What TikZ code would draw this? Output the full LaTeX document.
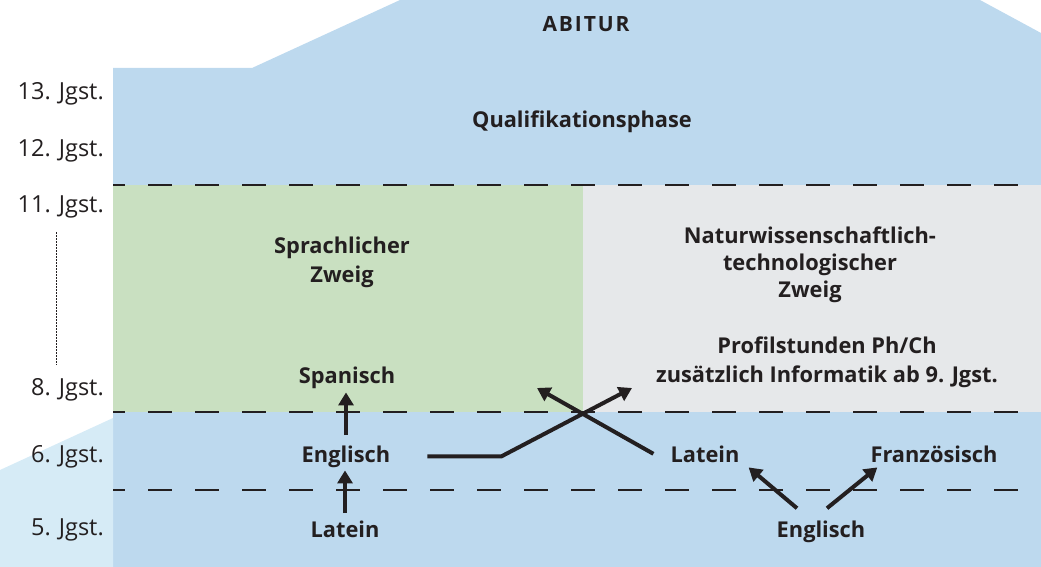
\documentclass[tikz,border=0pt]{standalone}
\usepackage{fontspec}
\setmainfont{Open Sans}
\usetikzlibrary{arrows.meta}
\definecolor{bgblue}{RGB}{189,217,238}
\definecolor{ltblue}{RGB}{214,235,246}
\definecolor{zgreen}{RGB}{201,224,193}
\definecolor{zgrey}{RGB}{230,232,234}
\definecolor{ink}{RGB}{35,31,32}
\tikzset{
  grade/.style={anchor=base east, inner sep=0pt, font=\fontsize{23.5}{25}\selectfont, text=ink},
  lbl/.style={anchor=base, inner sep=0pt, font=\bfseries\fontsize{21.8}{29}\selectfont, text=ink, align=center},
  sep/.style={draw=ink, line width=2pt, dash pattern=on 24pt off 23pt, dash phase=12pt},
  arr/.style={draw=ink, line width=4pt, -{Triangle[length=13pt,width=15pt]}},
}
\begin{document}
\begin{tikzpicture}[x=1pt,y=-1pt]
\useasboundingbox (0,0) rectangle (1041,567);
% backgrounds
\fill[bgblue] (113,567) -- (113,68) -- (252,68) -- (400,0) -- (980,0) -- (1041,33) -- (1041,567) -- cycle;
\fill[ltblue] (0,470) -- (113,418) -- (113,567) -- (0,567) -- cycle;
\fill[zgreen] (113,185) rectangle (583,412);
\fill[zgrey] (583,185) rectangle (1041,412);
% separators
\draw[sep] (113,185) -- (1041,185);
\draw[sep] (113,412) -- (1041,412);
\draw[sep] (113,490) -- (1041,490);
\draw[ink, line width=0.9pt, dash pattern=on 1.5pt off 1.5pt] (56,232) -- (56,365);
% grade labels
\node[grade] (g13) at (104,100) {13. Jgst.};
\node[grade] (g12) at (104,157) {12. Jgst.};
\node[grade] (g11) at (104,212) {11. Jgst.};
\node[grade] (g8)  at (104,395) {8. Jgst.};
\node[grade] (g6)  at (104,462) {6. Jgst.};
\node[grade] (g5)  at (104,535) {5. Jgst.};
% titles
\node[lbl, font=\bfseries\fontsize{21}{24}\selectfont\addfontfeature{LetterSpace=9}] (abitur) at (586,32) {ABITUR};
\node[lbl] (quali) at (582,128) {Qualifikationsphase};
\node[lbl] (sprach) at (342,282) {Sprachlicher\\Zweig};
\node[lbl, font=\bfseries\fontsize{21.8}{27}\selectfont] (natur) at (810,297) {Naturwissenschaftlich-\\technologischer\\Zweig};
\node[lbl] (profil) at (827,382) {Profilstunden Ph/Ch\\zusätzlich Informatik ab 9. Jgst.};
\node[lbl] (span) at (347,383) {Spanisch};
\node[lbl] (engL) at (346,462) {Englisch};
\node[lbl] (latL) at (345,537) {Latein};
\node[lbl] (latR) at (705,462) {Latein};
\node[lbl] (franz) at (934,462) {Französisch};
\node[lbl] (engR) at (821,537) {Englisch};
% arrow targets inside the branches
\coordinate (natin) at (632,388);
\coordinate (sprin) at (537,388);
% connectors
\draw[arr, shorten <=7pt, shorten >=3pt] (latL.north) -- (latL.north |- engL.south);
\draw[arr, shorten <=10pt, shorten >=4pt] (engL.north) -- (engL.north |- span.south);
\draw[arr] ([xshift=37pt]engL.east) -- ++(74,0) -- (natin);
\draw[arr] ([xshift=-17pt]latR.west) -- (sprin);
\draw[arr] ([shift={(-24pt,12pt)}]engR.north) -- ([shift={(9pt,-5pt)}]latR.south east);
\draw[arr] ([shift={(6pt,12pt)}]engR.north) -- ([shift={(7pt,-5pt)}]franz.south west);
\end{tikzpicture}
\end{document}
